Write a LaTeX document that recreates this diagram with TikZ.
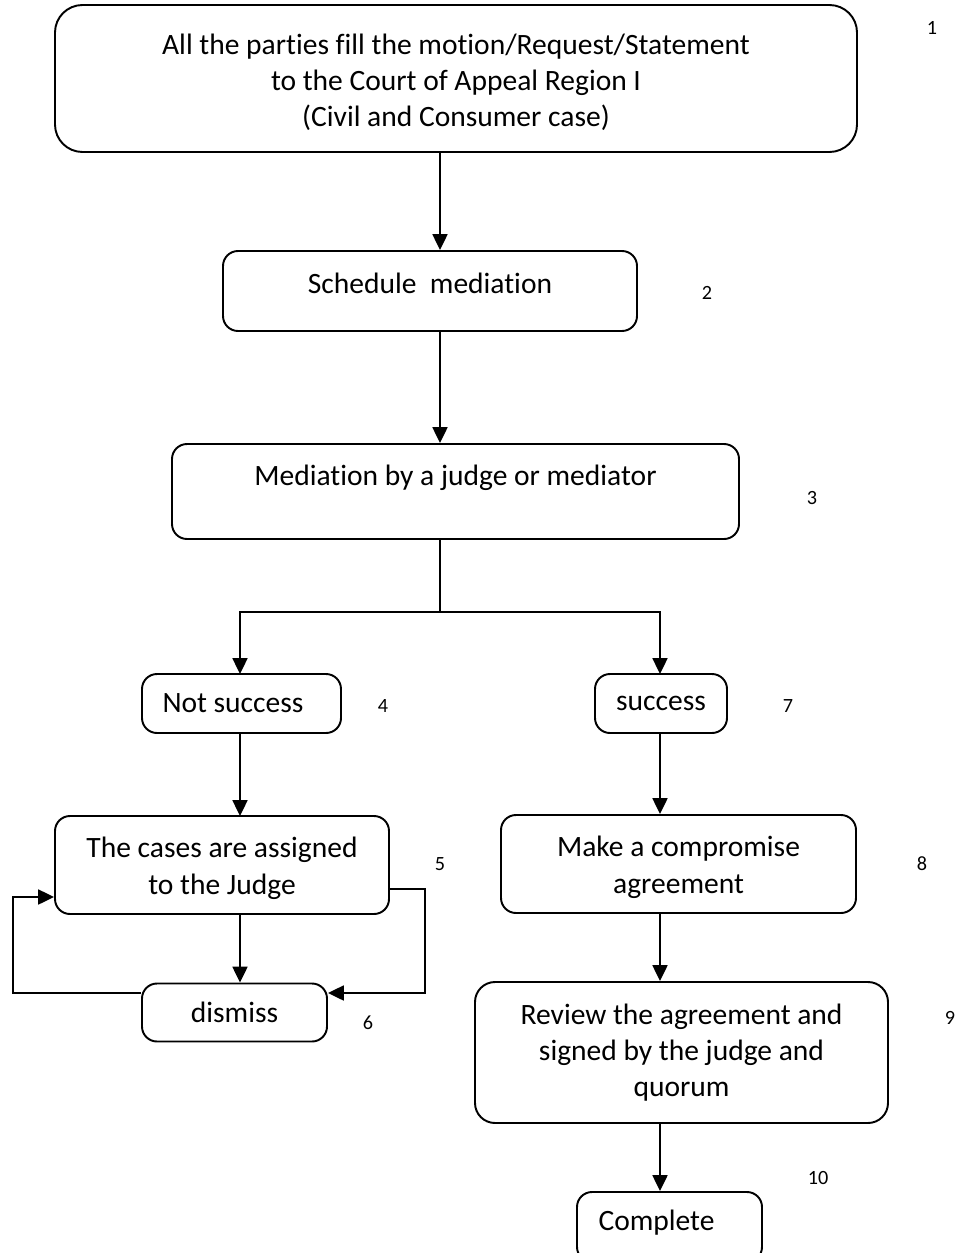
\documentclass[tikz,border=0pt]{standalone}
\usepackage{fontspec}
\setmainfont{Carlito}[Ligatures=NoCommon]
\usepackage{tikz}
\usetikzlibrary{calc, arrows.meta}

\tikzset{
  proc/.style={draw, line width=1.1pt, rounded corners=0.3cm, align=center,
    inner sep=0pt, font=\fontsize{16.8}{20.5}\selectfont},
  arr/.style={line width=1.1pt, -{Triangle[length=9pt,width=8.5pt]}},
  num/.style={font=\fontsize{11.5}{13}\selectfont}
}

\begin{document}
\begin{tikzpicture}
      \useasboundingbox (0,0) rectangle (19.24,-25.06);
      % boxes
      \node[proc, rounded corners=0.55cm, minimum width=16.04cm, minimum height=2.94cm, text height=2.05cm, text depth=0.14cm] (fill) at (9.12,-1.57)
          {All the parties fill the motion/Request/Statement\\to the Court of Appeal Region I\\(Civil and Consumer case)};
      \node[proc, minimum width=8.28cm, minimum height=1.6cm, text height=0.45cm, text depth=0.35cm] (sched) at (8.60,-5.82) {Schedule\ \ mediation};
      \node[proc, minimum width=11.34cm, minimum height=1.9cm, text height=0.4cm, text depth=0.66cm] (medi) at (9.11,-9.83) {Mediation by a judge or mediator};
      \node[proc, minimum width=3.98cm, minimum height=1.18cm] (fail) at (4.83,-14.07) {Not success\hspace{0.34cm}};
      \node[proc, minimum width=2.64cm, minimum height=1.18cm] (succ) at (13.22,-14.07) {success};
      \node[proc, minimum width=6.68cm, minimum height=1.96cm, text height=1.3cm, text depth=0.14cm] (assign) at (4.44,-17.30) {The cases are assigned\\to the Judge};
      \node[proc, minimum width=3.70cm, minimum height=1.16cm] (dismiss) at (4.69,-20.25) {dismiss};
      \node[proc, minimum width=7.10cm, minimum height=1.96cm, text height=1.3cm, text depth=0.14cm] (agree) at (13.57,-17.28) {Make a compromise\\agreement};
      \node[proc, rounded corners=0.4cm, minimum width=8.26cm, minimum height=2.82cm] (review) at (13.63,-21.05)
          {Review the agreement and\\signed by the judge and\\quorum};
      \node[proc, minimum width=3.70cm, minimum height=1.40cm, text height=0.45cm, text depth=0.3cm] (done) at (13.39,-24.54) {Complete\hspace{0.52cm}};
      % step numbers
      \foreach \n/\x/\y in {1/18.64/-0.56, 2/14.14/-5.86, 3/16.24/-9.96, 4/7.66/-14.12, 5/8.80/-17.28,
          6/7.36/-20.46, 7/15.76/-14.12, 8/18.44/-17.28, 9/19.00/-20.36, 10/16.36/-23.56} {
          \node[num] (n\n) at (\x,\y) {\n};
      }
      % connectors
      \coordinate (split) at (8.80,-12.24);
      \coordinate (rloop) at (8.50,-19.86);
      \coordinate (lloop) at (0.26,-19.86);
      \draw[arr] (fill.south -| split) -- (sched.north -| split);
      \draw[arr] (sched.south -| split) -- (medi.north -| split);
      \draw[line width=1.1pt] (medi.south -| split) -- (split);
      \draw[arr] (split) -| (4.80,-13.48);
      \draw[arr] (split) -| (13.20,-13.48);
      \draw[arr] (4.80,-14.66) -- (4.80,-16.32);
      \draw[arr] (4.80,-18.28) -- (dismiss.north -| 4.80,0);
      \draw[arr] ([yshift=-0.48cm]assign.east) -| (rloop) -- ([yshift=0.39cm]dismiss.east);
      \draw[arr] ([yshift=0.39cm]dismiss.west) -- (lloop) |- ([yshift=-0.64cm]assign.west);
      \draw[arr] (13.20,-14.66) -- (agree.north -| 13.20,0);
      \draw[arr] (13.20,-18.26) -- (review.north -| 13.20,0);
      \draw[arr] (review.south -| 13.20,0) -- (done.north -| 13.20,0);
\end{tikzpicture}
\end{document}
